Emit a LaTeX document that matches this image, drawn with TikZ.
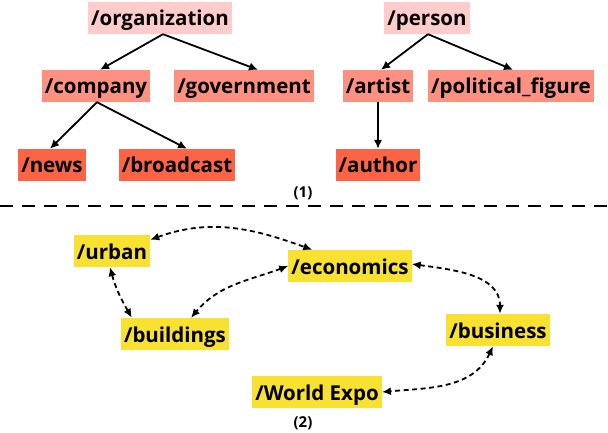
\documentclass[tikz,border=0pt]{standalone}
\usepackage{fontspec}
\setmainfont{Open Sans}
\usetikzlibrary{arrows.meta,calc}
\definecolor{lvA}{HTML}{FFCCCC}
\definecolor{lvB}{HTML}{FC9182}
\definecolor{lvC}{HTML}{FD6446}
\definecolor{yel}{HTML}{F9E131}
\begin{document}
\begin{tikzpicture}[x=1pt,y=1pt,
  box/.style={rectangle, inner xsep=3pt, inner ysep=0pt, minimum height=32pt,
    text height=19pt, text depth=3pt, font=\fontsize{20.5}{24}\selectfont\bfseries},
  tagA/.style={box, fill=lvA},
  tagB/.style={box, fill=lvB},
  tagC/.style={box, fill=lvC},
  tagY/.style={box, fill=yel},
  lab/.style={font=\fontsize{15}{18}\selectfont\bfseries},
  tree/.style={line width=1.8pt, -{Latex[length=9pt,width=8.5pt]}},
  rel/.style={line width=1.8pt, dash pattern=on 5pt off 3.5pt,
    {Latex[length=9pt,width=8pt]}-{Latex[length=9pt,width=8pt]}}
]
\fill[white] (0,0) rectangle (608,432);
\useasboundingbox (0,0) rectangle (608,432);

% top tree
\node[tagA] (org) at (160,414) {/organization};
\node[tagB] (comp) at (96,346) {/company};
\node[tagB] (gov) at (244,346) {/government};
\node[tagC] (news) at (52,267) {/news};
\node[tagC] (broad) at (177,267) {/broadcast};
\node[tagA] (pers) at (427,414) {/person};
\node[tagB] (art) at (378,346) {/artist};
\node[tagB] (pol) at (511,346) {/political\_figure};
\node[tagC] (auth) at (378,267) {/author};
\node[lab] (l1) at (303,239) {(1)};

\draw[tree] ([xshift=3pt]org.south) -- ([xshift=4pt]comp.north);
\draw[tree] ([xshift=3pt]org.south) -- ([xshift=14pt]gov.north);
\draw[tree] ([xshift=1pt]comp.south) -- ([xshift=-2pt]news.north);
\draw[tree] ([xshift=1pt]comp.south) -- ([xshift=10pt]broad.north);
\draw[tree] ([xshift=1pt]pers.south) -- ([xshift=3pt]art.north);
\draw[tree] ([xshift=1pt]pers.south) -- ([xshift=2pt]pol.north);
\draw[tree] (art.south) -- (auth.north);

% separator
\coordinate (sepL) at (0,226);
\coordinate (sepR) at (608,226);
\draw[line width=1.8pt, dash pattern=on 13pt off 9pt] (sepL) -- (sepR);

% bottom graph
\node[tagY] (urban) at (112,181) {/urban};
\node[tagY] (build) at (175,98) {/buildings};
\node[tagY] (econ) at (350,166) {/economics};
\node[tagY] (bus) at (498,102) {/business};
\node[tagY] (expo) at (317,40) {/World Expo};
\node[lab] (l2) at (303,9) {(2)};

\draw[rel] ([yshift=-5pt]urban.north east) to[out=20,in=160] ([xshift=24pt]econ.north west);
\draw[rel] ([xshift=-2pt]urban.south) to[out=-75,in=120] ([xshift=11pt]build.north west);
\draw[rel] (econ.west) to[out=200,in=50] ([xshift=16pt]build.north);
\draw[rel] ([yshift=2pt]econ.east) to[out=-8,in=90] ([xshift=2pt]bus.north);
\draw[rel] ([xshift=-5pt]bus.south) to[out=-115,in=5] (expo.east);
\end{tikzpicture}
\end{document}
